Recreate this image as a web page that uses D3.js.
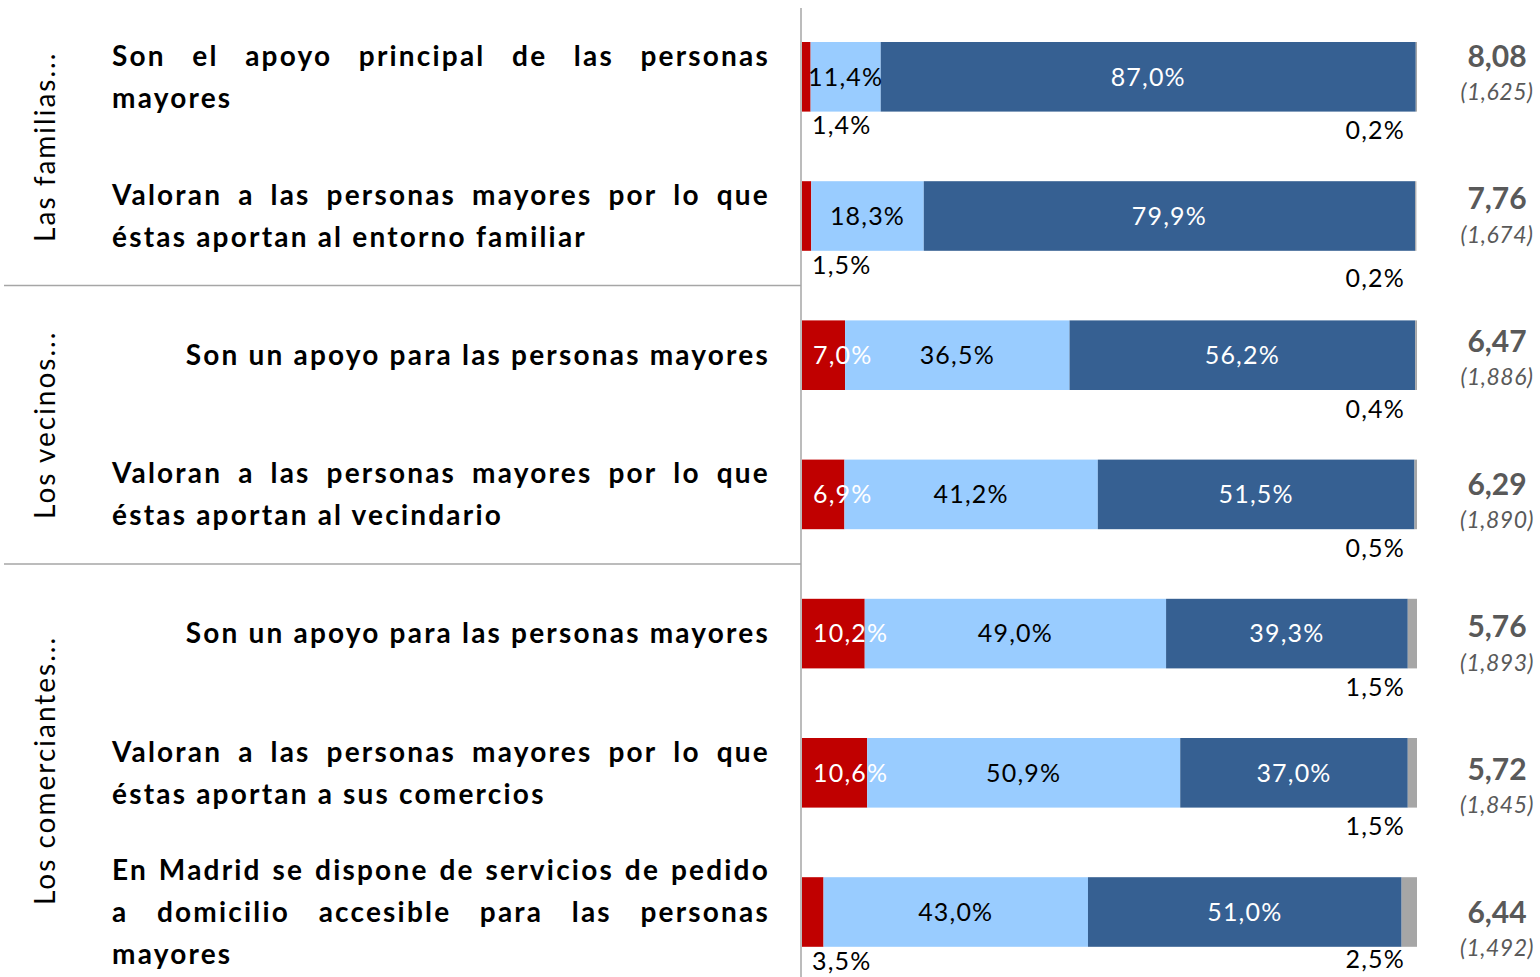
<!DOCTYPE html>
<html>
<head>
<meta charset="utf-8">
<script src="https://d3js.org/d3.v7.min.js"></script>
<style>
    body { margin: 0; background: #fff; }
    svg text { font-family: Lato, "Open Sans", sans-serif; }
</style>
</head>
<body>
<svg></svg>
<script>
    const width = 1540;
    const height = 977;

    // data
    const groups = ["Las familias...", "Los vecinos...", "Los comerciantes..."];
    const groupOf = [0, 0, 1, 1, 2, 2, 2];
    const labelLines = [
        ["Son el apoyo principal de las personas", "mayores"],
        ["Valoran a las personas mayores por lo que", "éstas aportan al entorno familiar"],
        ["Son un apoyo para las personas mayores"],
        ["Valoran a las personas mayores por lo que", "éstas aportan al vecindario"],
        ["Son un apoyo para las personas mayores"],
        ["Valoran a las personas mayores por lo que", "éstas aportan a sus comercios"],
        ["En Madrid se dispone de servicios de pedido", "a domicilio accesible para las personas", "mayores"]
    ];
    const pctLow = [1.4, 1.5, 7.0, 6.9, 10.2, 10.6, 3.5];
    const pctMid = [11.4, 18.3, 36.5, 41.2, 49.0, 50.9, 43.0];
    const pctHigh = [87.0, 79.9, 56.2, 51.5, 39.3, 37.0, 51.0];
    const pctNs = [0.2, 0.2, 0.4, 0.5, 1.5, 1.5, 2.5];
    const means = ["8,08", "7,76", "6,47", "6,29", "5,76", "5,72", "6,44"];
    const sds = ["(1,625)", "(1,674)", "(1,886)", "(1,890)", "(1,893)", "(1,845)", "(1,492)"];

    const colors = ["#C00000", "#99CCFF", "#366092", "#A6A6A6"];
    const fmt = v => v.toFixed(1).replace(".", ",") + "%";

    const rows = d3.range(labelLines.length).map(i => ({
        i: i,
        vals: [pctLow[i], pctMid[i], pctHigh[i], pctNs[i]]
    }));

    const svg = d3.select("svg").attr("width", width).attr("height", height);

    const y = d3.scaleBand().domain(d3.range(rows.length))
        .range([7.2, 981.6]).paddingInner(0.5).paddingOuter(0.25);
    const x = d3.scaleLinear().domain([0, 100]).range([802, 1417]);
    const yScore = d3.scalePoint().domain(d3.range(rows.length)).range([56, 912]);

    const gap = y.step() * y.paddingInner() / 2;
    const axisTop = 8;

    // axis line and separators
    svg.append("line")
        .attr("x1", 801).attr("x2", 801).attr("y1", axisTop).attr("y2", height)
        .style("stroke", "#A6A6A6").style("stroke-width", 1.5);

    const sepY = [];
    for (let i = 1; i < rows.length; i++) {
        if (groupOf[i] !== groupOf[i - 1]) sepY.push(y(i) - gap);
    }
    svg.selectAll(".sep").data(sepY).enter().append("line")
        .attr("class", "sep")
        .attr("x1", 4).attr("x2", 801).attr("y1", d => d).attr("y2", d => d)
        .style("stroke", "#A6A6A6").style("stroke-width", 1.5);

    // group labels
    const bounds = [axisTop].concat(sepY, [height]);
    svg.selectAll(".group").data(groups).enter().append("text")
        .attr("class", "group")
        .attr("transform", (d, i) => "translate(45," + ((bounds[i] + bounds[i + 1]) / 2) + ") rotate(-90)")
        .attr("text-anchor", "middle").attr("dy", "0.35em")
        .style("font-size", "28px").style("letter-spacing", "2px").style("fill", "#000")
        .text(d => d);

    // row labels (justified like the original)
    const left = 112, right = 770, lineH = 42;
    const labStyle = t => t.style("font-size", "28px").style("font-weight", 700).style("letter-spacing", "2.2px");
    rows.forEach(r => {
        const lines = labelLines[r.i];
        const cy = y(r.i) + y.bandwidth() / 2;
        const y0 = cy - (lines.length - 1) * lineH / 2;
        const g = svg.append("g");
        lines.forEach((line, li) => {
            const ly = y0 + li * lineH;
            const justify = lines.length > 1 && li < lines.length - 1;
            if (lines.length === 1) {
                g.append("text").attr("x", right).attr("y", ly).attr("dy", "0.35em")
                    .attr("text-anchor", "end").call(labStyle)
                    .text(line);
            } else if (!justify) {
                g.append("text").attr("x", left).attr("y", ly).attr("dy", "0.35em")
                    .call(labStyle)
                    .text(line);
            } else {
                const words = line.split(" ");
                const ws = words.map(w => {
                    const t = g.append("text").call(labStyle).text(w);
                    const len = t.node().getComputedTextLength();
                    t.remove();
                    return len;
                });
                const space = (right - left - d3.sum(ws)) / (words.length - 1);
                let cx = left;
                words.forEach((w, wi) => {
                    g.append("text").attr("x", cx).attr("y", ly).attr("dy", "0.35em")
                        .call(labStyle)
                        .text(w);
                    cx += ws[wi] + space;
                });
            }
        });
    });

    // bars
    const barG = svg.append("g");
    rows.forEach(r => {
        let acc = 0;
        r.segs = r.vals.map((v, k) => {
            const s = { k: k, v: v, x0: acc, x1: acc + v };
            acc += v;
            return s;
        });
        barG.selectAll(null).data(r.segs).enter().append("rect")
            .attr("x", d => x(d.x0))
            .attr("width", d => Math.max(0, x(Math.min(d.x1, 100)) - x(d.x0)))
            .attr("y", y(r.i))
            .attr("height", y.bandwidth())
            .style("fill", d => colors[d.k]);
    });

    // value labels
    const lab = svg.append("g").style("font-size", "25px").style("letter-spacing", "1.2px");
    rows.forEach(r => {
        const top = y(r.i), cy = top + y.bandwidth() / 2, bot = top + y.bandwidth();
        const s = r.segs;
        // red segment
        if (s[0].v >= 5) {
            lab.append("text").attr("x", x(0) + 11).attr("y", cy).attr("dy", "0.35em")
                .style("fill", "#fff").text(fmt(s[0].v));
        } else {
            lab.append("text").attr("x", x(0) + 10).attr("y", bot + 14).attr("dy", "0.35em")
                .style("fill", "#000").text(fmt(s[0].v));
        }
        // light blue
        lab.append("text").attr("x", x((s[1].x0 + s[1].x1) / 2)).attr("y", cy).attr("dy", "0.35em")
            .attr("text-anchor", "middle").style("fill", "#000").text(fmt(s[1].v));
        // dark blue
        lab.append("text").attr("x", x((s[2].x0 + s[2].x1) / 2)).attr("y", cy).attr("dy", "0.35em")
            .attr("text-anchor", "middle").style("fill", "#fff").text(fmt(s[2].v));
        // grey (no sabe)
        const off = (s[0].v < 5 && r.i === 1) ? 27 : 19;
        lab.append("text").attr("x", 1405).attr("y", Math.min(bot + off, 959)).attr("dy", "0.35em")
            .attr("text-anchor", "end").style("fill", "#000").text(fmt(s[3].v));
    });

    // means and deviations
    svg.selectAll(".mean").data(means).enter().append("text")
        .attr("class", "mean")
        .attr("x", 1497).attr("y", (d, i) => yScore(i)).attr("dy", "0.35em")
        .attr("text-anchor", "middle")
        .style("font-size", "30px").style("font-weight", 700).style("fill", "#595959")
        .text(d => d);
    svg.selectAll(".sd").data(sds).enter().append("text")
        .attr("class", "sd")
        .attr("x", 1497).attr("y", (d, i) => yScore(i) + 36).attr("dy", "0.35em")
        .attr("text-anchor", "middle")
        .style("font-size", "23px").style("font-style", "italic").style("letter-spacing", "0.5px").style("fill", "#595959")
        .text(d => d);
</script>
</body>
</html>
